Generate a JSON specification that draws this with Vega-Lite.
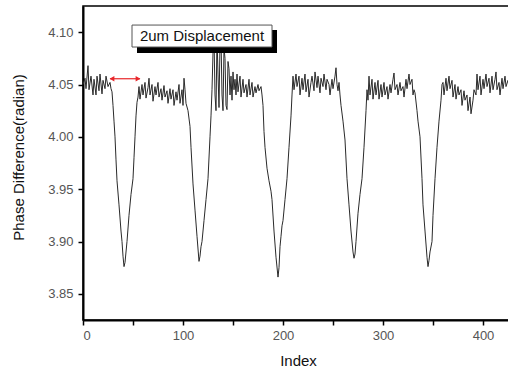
{
  "$schema": "https://vega.github.io/schema/vega-lite/v6.json",
  "width": 430,
  "height": 314,
  "autosize": "none",
  "padding": {"left": 83, "top": 6, "right": 0, "bottom": 48},
  "background": "white",
  "view": {"stroke": "#000", "strokeWidth": 1.5},
  "config": {
    "font": "Liberation Sans",
    "axis": {
      "grid": false,
      "domainColor": "#000",
      "domainWidth": 2,
      "tickColor": "#000",
      "tickWidth": 1.5,
      "tickSize": 5,
      "labelColor": "#555",
      "labelFont": "Liberation Sans",
      "labelFontSize": 13,
      "titleFont": "Liberation Sans",
      "titleFontSize": 15,
      "titleFontWeight": "normal",
      "titleColor": "#111"
    }
  },
  "datasets": {
    "signal": [
      {"i":0,"v":4.050},{"i":2,"v":4.056},{"i":3,"v":4.046},{"i":5,"v":4.068},{"i":6,"v":4.045},{"i":8,"v":4.058},{"i":10,"v":4.040},{"i":11,"v":4.055},{"i":13,"v":4.040},{"i":14,"v":4.058},{"i":16,"v":4.044},{"i":17,"v":4.060},{"i":19,"v":4.041},{"i":20,"v":4.054},{"i":22,"v":4.046},{"i":23,"v":4.058},{"i":25,"v":4.048},{"i":27,"v":4.052},{"i":28,"v":4.046},{"i":29,"v":4.043},
      {"i":30,"v":4.030},{"i":31,"v":4.015},{"i":32,"v":4.000},{"i":33,"v":3.978},{"i":34,"v":3.958},{"i":36,"v":3.935},{"i":38,"v":3.910},{"i":39,"v":3.900},{"i":40,"v":3.886},{"i":41,"v":3.876},{"i":42,"v":3.880},{"i":44,"v":3.900},{"i":46,"v":3.925},{"i":48,"v":3.945},{"i":50,"v":3.960},{"i":51,"v":3.980},{"i":52,"v":4.000},{"i":53,"v":4.020},{"i":54,"v":4.033},
      {"i":55,"v":4.038},{"i":56,"v":4.048},{"i":57,"v":4.036},{"i":59,"v":4.050},{"i":60,"v":4.040},{"i":62,"v":4.052},{"i":63,"v":4.037},{"i":65,"v":4.047},{"i":66,"v":4.056},{"i":67,"v":4.040},{"i":69,"v":4.050},{"i":70,"v":4.034},{"i":72,"v":4.048},{"i":73,"v":4.040},{"i":75,"v":4.052},{"i":76,"v":4.038},{"i":78,"v":4.046},{"i":79,"v":4.035},{"i":81,"v":4.049},{"i":82,"v":4.038},{"i":84,"v":4.044},{"i":85,"v":4.032},{"i":87,"v":4.046},{"i":88,"v":4.036},{"i":90,"v":4.045},{"i":91,"v":4.030},{"i":93,"v":4.043},{"i":94,"v":4.035},{"i":96,"v":4.050},{"i":97,"v":4.032},{"i":99,"v":4.045},{"i":100,"v":4.030},{"i":101,"v":4.056},{"i":102,"v":4.045},{"i":103,"v":4.032},
      {"i":105,"v":4.025},{"i":107,"v":4.010},{"i":108,"v":3.990},{"i":110,"v":3.955},{"i":112,"v":3.930},{"i":114,"v":3.905},{"i":116,"v":3.881},{"i":117,"v":3.886},{"i":118,"v":3.895},{"i":119,"v":3.900},{"i":121,"v":3.920},{"i":123,"v":3.940},{"i":125,"v":3.960},{"i":127,"v":4.000},{"i":128,"v":4.020},{"i":129,"v":4.045},
      {"i":130,"v":4.080},{"i":131,"v":4.095},{"i":132,"v":4.040},{"i":133,"v":4.025},{"i":134,"v":4.095},{"i":135,"v":4.060},{"i":136,"v":4.028},{"i":137,"v":4.090},{"i":138,"v":4.095},{"i":139,"v":4.040},{"i":140,"v":4.025},{"i":141,"v":4.085},{"i":142,"v":4.075},{"i":143,"v":4.030},{"i":144,"v":4.026},{"i":145,"v":4.072},{"i":146,"v":4.065},{"i":147,"v":4.040},{"i":148,"v":4.058},{"i":149,"v":4.035},{"i":150,"v":4.062},{"i":151,"v":4.045},{"i":152,"v":4.055},{"i":153,"v":4.040},{"i":154,"v":4.060},{"i":155,"v":4.043},{"i":157,"v":4.058},{"i":158,"v":4.038},{"i":160,"v":4.055},{"i":161,"v":4.042},{"i":163,"v":4.050},{"i":164,"v":4.038},{"i":166,"v":4.055},{"i":167,"v":4.040},{"i":169,"v":4.052},{"i":170,"v":4.038},{"i":172,"v":4.048},{"i":173,"v":4.042},{"i":175,"v":4.050},{"i":176,"v":4.044},{"i":178,"v":4.048},{"i":179,"v":4.040},
      {"i":180,"v":4.030},{"i":181,"v":4.005},{"i":182,"v":3.990},{"i":184,"v":3.970},{"i":186,"v":3.958},{"i":188,"v":3.948},{"i":189,"v":3.940},{"i":191,"v":3.910},{"i":193,"v":3.885},{"i":195,"v":3.866},{"i":196,"v":3.875},{"i":197,"v":3.895},{"i":198,"v":3.905},{"i":199,"v":3.915},{"i":200,"v":3.920},{"i":202,"v":3.940},{"i":204,"v":3.960},{"i":206,"v":3.990},{"i":208,"v":4.020},{"i":209,"v":4.040},
      {"i":210,"v":4.058},{"i":211,"v":4.045},{"i":213,"v":4.060},{"i":214,"v":4.048},{"i":216,"v":4.058},{"i":217,"v":4.040},{"i":219,"v":4.056},{"i":220,"v":4.045},{"i":222,"v":4.060},{"i":223,"v":4.043},{"i":225,"v":4.055},{"i":226,"v":4.038},{"i":228,"v":4.052},{"i":229,"v":4.058},{"i":231,"v":4.044},{"i":232,"v":4.062},{"i":234,"v":4.047},{"i":235,"v":4.058},{"i":237,"v":4.042},{"i":238,"v":4.056},{"i":240,"v":4.048},{"i":241,"v":4.060},{"i":243,"v":4.045},{"i":244,"v":4.055},{"i":246,"v":4.050},{"i":247,"v":4.040},{"i":249,"v":4.055},{"i":250,"v":4.046},{"i":252,"v":4.058},{"i":253,"v":4.066},{"i":254,"v":4.050},{"i":255,"v":4.044},{"i":256,"v":4.052},{"i":257,"v":4.040},
      {"i":258,"v":4.030},{"i":260,"v":4.015},{"i":262,"v":3.997},{"i":264,"v":3.960},{"i":266,"v":3.935},{"i":268,"v":3.910},{"i":270,"v":3.890},{"i":271,"v":3.884},{"i":272,"v":3.888},{"i":273,"v":3.900},{"i":275,"v":3.927},{"i":277,"v":3.945},{"i":279,"v":3.960},{"i":281,"v":3.990},{"i":283,"v":4.025},{"i":284,"v":4.045},
      {"i":285,"v":4.035},{"i":286,"v":4.058},{"i":287,"v":4.040},{"i":289,"v":4.055},{"i":290,"v":4.036},{"i":292,"v":4.052},{"i":293,"v":4.040},{"i":295,"v":4.054},{"i":296,"v":4.036},{"i":298,"v":4.050},{"i":299,"v":4.038},{"i":301,"v":4.052},{"i":302,"v":4.040},{"i":304,"v":4.048},{"i":305,"v":4.036},{"i":307,"v":4.050},{"i":308,"v":4.042},{"i":310,"v":4.055},{"i":311,"v":4.061},{"i":312,"v":4.045},{"i":314,"v":4.050},{"i":315,"v":4.040},{"i":317,"v":4.052},{"i":318,"v":4.044},{"i":320,"v":4.048},{"i":321,"v":4.038},{"i":323,"v":4.055},{"i":324,"v":4.046},{"i":326,"v":4.060},{"i":327,"v":4.050},{"i":329,"v":4.055},{"i":330,"v":4.040},{"i":331,"v":4.045},
      {"i":332,"v":4.042},{"i":334,"v":4.025},{"i":335,"v":4.015},{"i":337,"v":4.000},{"i":339,"v":3.960},{"i":340,"v":3.935},{"i":342,"v":3.910},{"i":344,"v":3.885},{"i":345,"v":3.876},{"i":346,"v":3.882},{"i":347,"v":3.890},{"i":349,"v":3.900},{"i":350,"v":3.925},{"i":352,"v":3.960},{"i":354,"v":3.990},{"i":356,"v":4.015},{"i":358,"v":4.035},{"i":359,"v":4.050},
      {"i":360,"v":4.052},{"i":361,"v":4.040},{"i":363,"v":4.056},{"i":364,"v":4.044},{"i":366,"v":4.058},{"i":367,"v":4.046},{"i":369,"v":4.054},{"i":370,"v":4.038},{"i":372,"v":4.050},{"i":373,"v":4.036},{"i":375,"v":4.048},{"i":376,"v":4.040},{"i":378,"v":4.045},{"i":379,"v":4.030},{"i":381,"v":4.044},{"i":382,"v":4.035},{"i":384,"v":4.040},{"i":385,"v":4.025},{"i":387,"v":4.038},{"i":388,"v":4.022},{"i":390,"v":4.035},{"i":391,"v":4.045},{"i":393,"v":4.040},{"i":394,"v":4.060},{"i":395,"v":4.045},{"i":397,"v":4.058},{"i":398,"v":4.040},{"i":400,"v":4.055},{"i":401,"v":4.046},{"i":403,"v":4.060},{"i":404,"v":4.048},{"i":406,"v":4.056},{"i":407,"v":4.042},{"i":409,"v":4.058},{"i":410,"v":4.045},{"i":412,"v":4.055},{"i":413,"v":4.062},{"i":414,"v":4.045},{"i":416,"v":4.052},{"i":417,"v":4.040},{"i":419,"v":4.056},{"i":420,"v":4.046},{"i":422,"v":4.058},{"i":423,"v":4.048},{"i":425,"v":4.054},{"i":427,"v":4.046},{"i":429,"v":4.052},{"i":430,"v":4.048}
    ],
    "box": [{"x1": 49, "x2": 189, "y1": 4.0858, "y2": 4.1068, "sx1": 54, "sx2": 194, "sy1": 4.0801, "sy2": 4.1021, "label": "2um Displacement", "tx": 119, "ty": 4.0963}],
    "arrow": [{"a": 27, "b": 57, "y": 4.0555}],
    "heads": [{"i": 29, "y": 4.0555, "shape": "triangle-left"}, {"i": 55, "y": 4.0555, "shape": "triangle-right"}]
  },
  "layer": [
    {
      "data": {"name": "signal"},
      "mark": {"type": "line", "color": "#2a2a2a", "strokeWidth": 1, "clip": true},
      "encoding": {
        "x": {
          "field": "i", "type": "quantitative",
          "scale": {"domain": [0, 430], "nice": false, "zero": false},
          "axis": {
            "title": "Index",
            "values": [0, 50, 100, 150, 200, 250, 300, 350, 400],
            "labelExpr": "datum.value % 100 === 0 ? datum.label : ''",
            "labelPadding": 4,
            "titleY": 40,
            "titleBaseline": "middle"
          }
        },
        "y": {
          "field": "v", "type": "quantitative",
          "scale": {"domain": [3.825, 4.125], "nice": false, "zero": false},
          "axis": {
            "title": "Phase Difference(radian)",
            "values": [3.85, 3.875, 3.9, 3.925, 3.95, 3.975, 4.0, 4.025, 4.05, 4.075, 4.1],
            "labelExpr": "round(datum.value * 1000) % 50 === 0 ? format(datum.value, '.2f') : ''",
            "labelPadding": 5,
            "titleX": -65,
            "titleY": 151,
            "titleBaseline": "middle",
            "titleAlign": "center"
          }
        }
      }
    },
    {
      "data": {"name": "box"},
      "mark": {"type": "rect", "color": "#000"},
      "encoding": {
        "x": {"field": "sx1", "type": "quantitative"},
        "x2": {"field": "sx2"},
        "y": {"field": "sy1", "type": "quantitative"},
        "y2": {"field": "sy2"}
      }
    },
    {
      "data": {"name": "box"},
      "mark": {"type": "rect", "fill": "#fff", "stroke": "#555", "strokeWidth": 1},
      "encoding": {
        "x": {"field": "x1", "type": "quantitative"},
        "x2": {"field": "x2"},
        "y": {"field": "y1", "type": "quantitative"},
        "y2": {"field": "y2"}
      }
    },
    {
      "data": {"name": "box"},
      "mark": {"type": "text", "font": "Liberation Sans", "fontSize": 15, "color": "#111", "align": "center", "baseline": "middle"},
      "encoding": {
        "x": {"field": "tx", "type": "quantitative"},
        "y": {"field": "ty", "type": "quantitative"},
        "text": {"field": "label"}
      }
    },
    {
      "data": {"name": "arrow"},
      "mark": {"type": "rule", "color": "#e8262a", "strokeWidth": 1.2},
      "encoding": {
        "x": {"field": "a", "type": "quantitative"},
        "x2": {"field": "b"},
        "y": {"field": "y", "type": "quantitative"}
      }
    },
    {
      "data": {"name": "heads"},
      "mark": {"type": "point", "filled": true, "color": "#e8262a", "size": 30, "opacity": 1},
      "encoding": {
        "x": {"field": "i", "type": "quantitative"},
        "y": {"field": "y", "type": "quantitative"},
        "shape": {"field": "shape", "type": "nominal", "scale": null, "legend": null}
      }
    }
  ]
}
